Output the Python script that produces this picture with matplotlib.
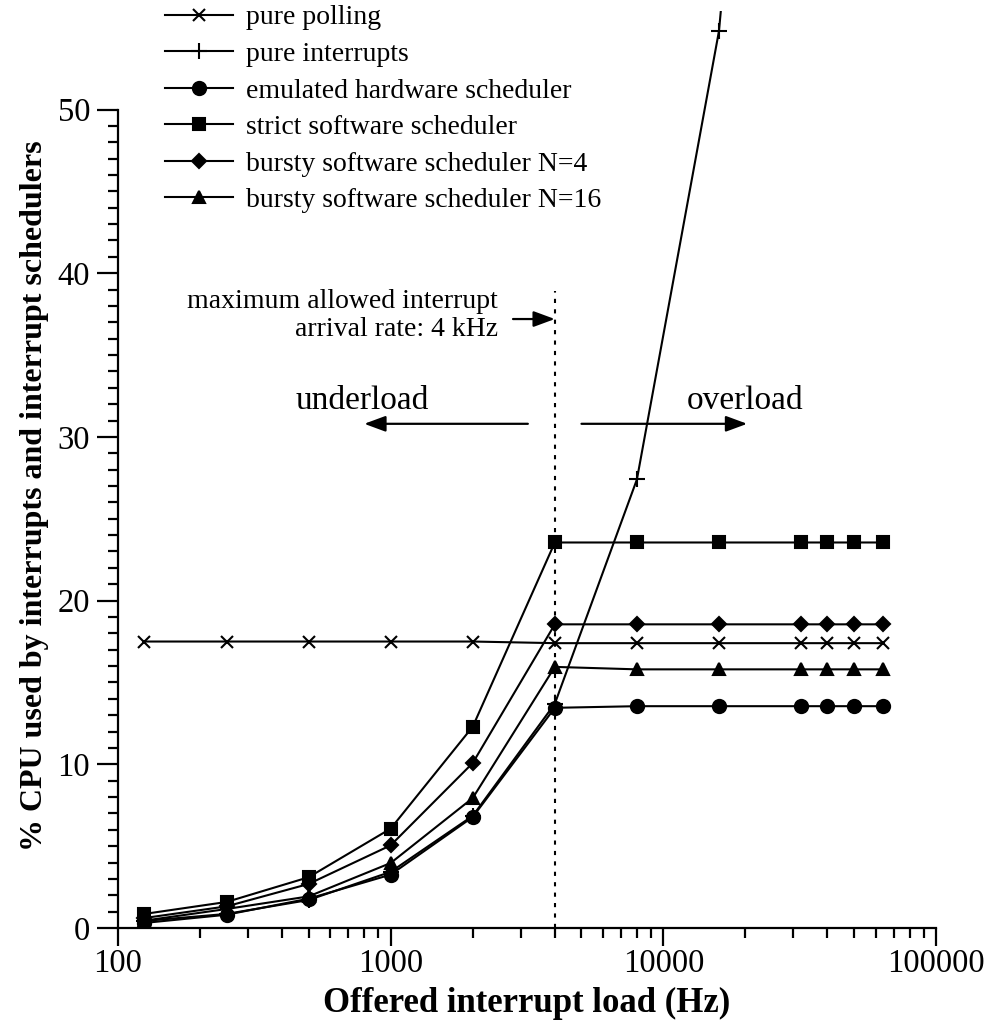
import numpy as np
import matplotlib
matplotlib.use("Agg")
import matplotlib.pyplot as plt
from matplotlib.ticker import FixedLocator, FuncFormatter, LogLocator

plt.rcParams["font.family"] = ["Liberation Serif", "DejaVu Serif"]

# offered interrupt load (Hz)
load = [125, 250, 500, 1000, 2000, 4000, 8000, 16000, 32000, 40000, 50000, 64000]

polling    = [17.5, 17.5, 17.5, 17.5, 17.5, 17.4, 17.4, 17.4, 17.4, 17.4, 17.4, 17.4]
interrupts = [0.43, 0.86, 1.71, 3.43, 6.85, 13.7, 27.4, 54.8, 109.6, 137.0, 171.2, 219.2]
hw_sched   = [0.31, 0.81, 1.79, 3.26, 6.78, 13.45, 13.55, 13.55, 13.55, 13.55, 13.55, 13.55]
strict     = [0.86, 1.59, 3.1, 6.07, 12.3, 23.55, 23.55, 23.55, 23.55, 23.55, 23.55, 23.55]
bursty4    = [0.61, 1.32, 2.69, 5.05, 10.08, 18.55, 18.55, 18.55, 18.55, 18.55, 18.55, 18.55]
bursty16   = [0.45, 1.16, 1.93, 3.97, 7.94, 15.95, 15.8, 15.8, 15.8, 15.8, 15.8, 15.8]

series = [
    ("pure polling", polling, "x"),
    ("pure interrupts", interrupts, "+"),
    ("emulated hardware scheduler", hw_sched, "o"),
    ("strict software scheduler", strict, "s"),
    ("bursty software scheduler N=4", bursty4, "D"),
    ("bursty software scheduler N=16", bursty16, "^"),
]
msizes = {"x": 9, "+": 11, "o": 9.5, "s": 9, "D": 7, "^": 9}

W, H = 992, 1021
fig = plt.figure(figsize=(W / 100, H / 100), dpi=100)
# axes box in pixels: x 118..936, y(0)=928, 16.37 px per unit, ylim 0..56
y0, ppu, ytop = 928, 16.37, 56
ax = fig.add_axes([118 / W, 1 - y0 / H, (936 - 118) / W, ytop * ppu / H])

handles = []
for name, vals, mk in series:
    h, = ax.plot(load, vals, color="black", lw=1.5, marker=mk, ms=msizes[mk],
                 mew=1.5, label=name)
    handles.append(h)

ax.set_xscale("log")
ax.set_xlim(100, 100000)
ax.set_ylim(0, ytop)

for s in ["top", "right"]:
    ax.spines[s].set_visible(False)
for s in ["left", "bottom"]:
    ax.spines[s].set_linewidth(1.6)
ax.spines["left"].set_bounds(0, 50)

ax.yaxis.set_major_locator(FixedLocator([0, 10, 20, 30, 40, 50]))
ax.yaxis.set_minor_locator(FixedLocator([v for v in range(0, 51) if v % 10]))
ax.xaxis.set_major_locator(LogLocator(base=10, numticks=10))
ax.xaxis.set_minor_locator(LogLocator(base=10, subs=np.arange(2, 10), numticks=20))
ax.xaxis.set_major_formatter(FuncFormatter(lambda v, p: f"{int(round(v))}"))
ax.tick_params(which="major", direction="out", length=15, width=1.6, labelsize=23.5, pad=5)
ax.tick_params(which="minor", direction="out", length=7, width=1.6)
ax.tick_params(axis="x", which="major", length=13, pad=2)

fig.text(527 / W, 1 - 1003 / H, "Offered interrupt load (Hz)", ha="center", va="center",
         fontsize=25, fontweight="bold")
fig.text(35 / W, 1 - 496 / H, "% CPU used by interrupts and interrupt schedulers",
         rotation=90, ha="center", va="center", fontsize=23, fontweight="bold")

# 4 kHz limit
ax.plot([4000, 4000], [0, 38.9], color="black", lw=1.5, ls=(0, (2, 3)))
ax.text(2470, 37.4, "maximum allowed interrupt\narrival rate: 4 kHz", ha="right",
        va="center", fontsize=20, linespacing=1.15)
arrow = dict(arrowstyle="-|>,head_length=0.65,head_width=0.24", color="black", lw=1.6,
             mutation_scale=20, shrinkA=0, shrinkB=0)
ax.annotate("", xy=(4000, 37.2), xytext=(2810, 37.2), arrowprops=arrow)

ax.text(785, 32.2, "underload", ha="center", va="center", fontsize=24)
ax.annotate("", xy=(800, 30.8), xytext=(3185, 30.8), arrowprops=arrow)
ax.text(19900, 32.2, "overload", ha="center", va="center", fontsize=24)
ax.annotate("", xy=(20300, 30.8), xytext=(5010, 30.8), arrowprops=arrow)

fig.legend(handles=handles, loc="upper left", bbox_to_anchor=(165 / W, 1 - 5 / H),
           frameon=False, fontsize=20, handlelength=2.45, handletextpad=0.45,
           labelspacing=0.4, borderpad=0, borderaxespad=0)

fig.savefig("out.png", dpi=100)
